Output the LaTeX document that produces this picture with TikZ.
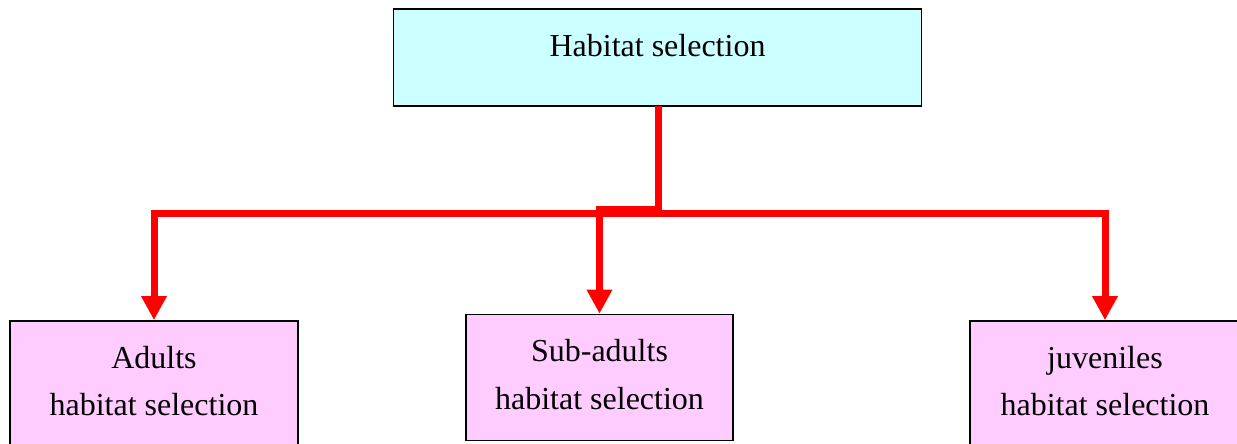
\documentclass[tikz,border=0pt]{standalone}
\usepackage{fontspec}
\setmainfont{Liberation Serif}
\usetikzlibrary{arrows.meta}
\definecolor{topfill}{HTML}{CCFFFF}
\definecolor{subfill}{HTML}{FFCCFF}
\definecolor{linkred}{HTML}{FF0000}
\begin{document}
\begin{tikzpicture}[x=1pt,y=-1pt,
  box/.style={draw=black, line width=1.6pt, rectangle, inner sep=0pt},
  topbox/.style={box, fill=topfill},
  subbox/.style={box, fill=subfill},
  lbl/.style={anchor=base, inner sep=0pt, font=\fontsize{32}{38}\selectfont},
  conn/.style={draw=linkred, line width=7pt, -{Triangle[width=24pt,length=24pt]}},
  bar/.style={draw=linkred, line width=7pt}]
\useasboundingbox (0,0) rectangle (1237,444);
\clip (0,0) rectangle (1237,444);
% boxes
\node[topbox, minimum width=528pt, minimum height=97pt] (top) at (657.5,57.5) {};
\node[subbox, minimum width=288pt, minimum height=140pt] (lbox) at (154,391) {};
\node[subbox, minimum width=267pt, minimum height=126pt] (mbox) at (599.5,377.5) {};
\node[subbox, minimum width=270pt, minimum height=140pt] (rbox) at (1105,391) {};
% texts
\node[lbl] (ttop) at (657.5,57) {Habitat selection};
\node[lbl] (tl1) at (154,368) {Adults};
\node[lbl] (tl2) at (154,415) {habitat selection};
\node[lbl] (tm1) at (599.5,361) {Sub-adults};
\node[lbl] (tm2) at (599.5,409) {habitat selection};
\node[lbl] (tr1) at (1105,368) {juveniles};
\node[lbl] (tr2) at (1105,415) {habitat selection};
% connectors
\coordinate (j) at (658,213);
\coordinate (j2) at (658,209.5);
\coordinate (s) at (658,106);
\draw[bar] (s) -- (658,216);
\draw[conn] (j) -| (lbox.north);
\draw[conn] (j) -| (rbox.north);
\draw[conn] (j2) -| (mbox.north);
\end{tikzpicture}
\end{document}
